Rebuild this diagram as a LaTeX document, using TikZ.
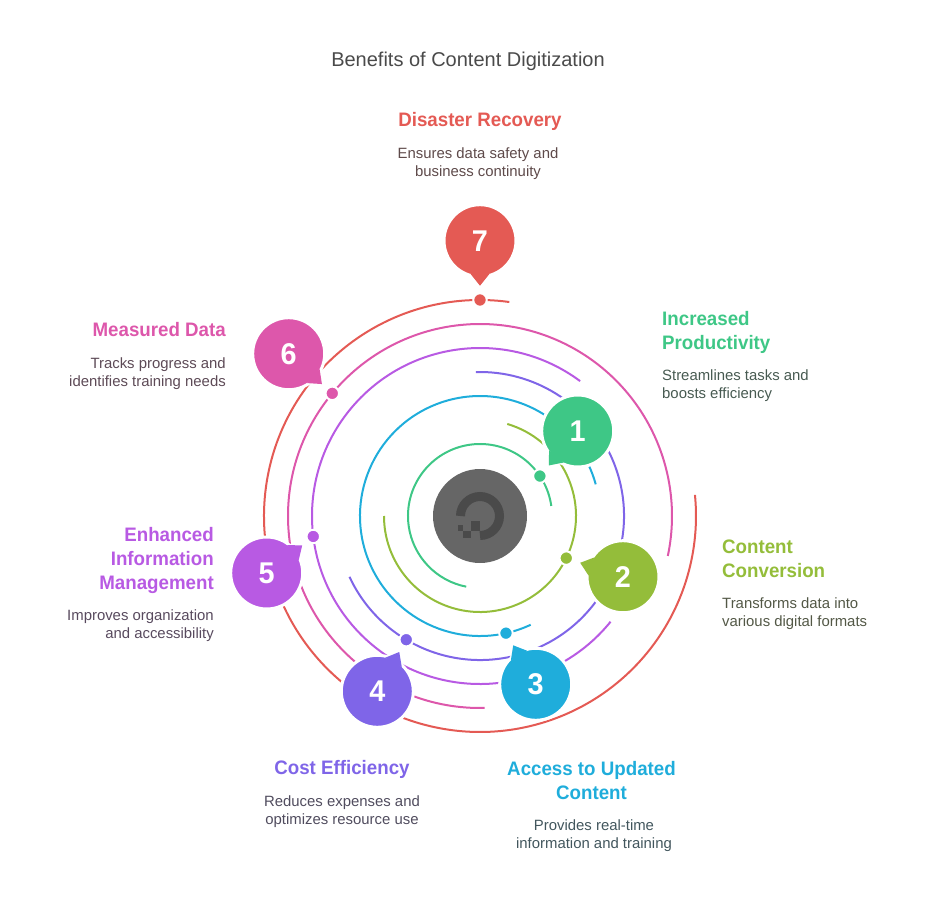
\documentclass[tikz,border=0pt]{standalone}
\usepackage{fontspec}
\setmainfont[BoldFeatures={FakeStretch=0.96}]{Liberation Sans}
\usetikzlibrary{positioning, calc}
\definecolor{stepone}{HTML}{3EC786}
\definecolor{steptwo}{HTML}{94BD3A}
\definecolor{stepthree}{HTML}{1FADDB}
\definecolor{stepfour}{HTML}{7F65E8}
\definecolor{stepfive}{HTML}{B85AE3}
\definecolor{stepsix}{HTML}{DD57AB}
\definecolor{stepseven}{HTML}{E45A54}
\definecolor{hubgray}{HTML}{666666}
\definecolor{logogray}{HTML}{4A4A4A}
\definecolor{bodygray}{HTML}{484848}

\begin{document}
\begin{tikzpicture}[
  x=1pt, y=1pt,
  orbit/.style={line width=2pt},
  marker/.style={circle, draw=white, line width=2pt, inner sep=0pt, minimum size=13.5pt},
  bubble/.style={circle, draw=white, line width=3pt, inner sep=0pt, minimum size=72pt, text=white, font=\fontsize{30}{30}\selectfont\bfseries},
  head/.style={font=\fontsize{19.5}{24}\selectfont\bfseries, inner sep=0pt, execute at begin node=\strut, execute at end node=\strut},
  blurb/.style={font=\fontsize{14.9}{18}\selectfont, inner sep=0pt, execute at begin node=\strut, execute at end node=\strut},
]
\useasboundingbox (-480,-384) rectangle (456,516);

\node[font=\fontsize{20}{24}\selectfont, text=logogray, inner sep=0pt] (title) at (-12,454.5) {Benefits of Content Digitization};

% orbits
\draw[orbit, stepone] (8:72) arc[start angle=8, end angle=259, radius=72];
\draw[orbit, steptwo] (73.5:96) arc[start angle=73.5, end angle=-180, radius=96];
\draw[orbit, stepthree] (-65:120) arc[start angle=-65, end angle=-344.7, radius=120];
\draw[orbit, stepfour] (205:144) arc[start angle=205, end angle=451.6, radius=144];
\draw[orbit, stepfive] (-39:168) arc[start angle=-39, end angle=-306.6, radius=168];
\draw[orbit, stepsix] (-88.6:192) arc[start angle=-88.6, end angle=-372, radius=192];
\draw[orbit, stepseven] (82.2:216) arc[start angle=82.2, end angle=365.6, radius=216];

% hub
\node[circle, fill=hubgray, minimum size=94pt, inner sep=0pt] (hub) at (0,0) {};
\draw[logogray, line width=9pt] (180:19.5) arc[start angle=180, end angle=-90, radius=19.5];
\fill[logogray] (-9.3,-5.3) rectangle (0,-14.7);
\fill[logogray] (-17,-14.7) rectangle (-9.3,-22);
\fill[logogray] (-22,-9.3) rectangle (-17,-14.7);

% dots on the orbits
\node[marker, fill=stepone] (d1) at (33.7:72) {};
\node[marker, fill=steptwo] (d2) at (-26:96) {};
\node[marker, fill=stepthree] (d3) at (-77.5:120) {};
\node[marker, fill=stepfour] (d4) at (239.2:144) {};
\node[marker, fill=stepfive] (d5) at (187:168) {};
\node[marker, fill=stepsix] (d6) at (140.3:192) {};
\node[marker, fill=stepseven] (d7) at (90:216) {};

% bubbles
\foreach \n/\col/\px/\py/\ang in {
  1/stepone/97.7/85/230,
  2/steptwo/143/-60.7/162,
  3/stepthree/55.7/-168.3/120,
  4/stepfour/-102.7/-175.3/60.8,
  5/stepfive/-213.3/-57/37.9,
  6/stepsix/-191.3/162.3/-42.4,
  7/stepseven/0/275.3/270}
{
  \coordinate (c\n) at (\px,\py);
  \coordinate (t\n) at ($(c\n)+(\ang:45)$);
  \draw[white, line width=3pt, line join=round] ($(c\n)+(\ang+16:34)$) -- (t\n) -- ($(c\n)+(\ang-16:34)$);
  \node[bubble, fill=\col] (b\n) at (c\n) {\n};
  \fill[\col] ($(c\n)+(\ang+16:34.5)$) -- (t\n) -- ($(c\n)+(\ang-16:34.5)$) -- cycle;
}

% labels
\node[head, text=stepone, align=left, anchor=north west] (h1) at (182,204.8) {Increased\\Productivity};
\node[blurb, text=stepone!14!bodygray, align=left, below=12.7pt of h1.south west, anchor=north west] (p1) {Streamlines tasks and\\boosts efficiency};

\node[head, text=steptwo, align=left, anchor=north west] (h2) at (242,-23.2) {Content\\Conversion};
\node[blurb, text=steptwo!14!bodygray, align=left, below=12.7pt of h2.south west, anchor=north west] (p2) {Transforms data into\\various digital formats};

\node[head, text=stepthree, align=center, anchor=north] (h3) at (111.5,-245.2) {Access to Updated\\Content};
\node[blurb, text=stepthree!14!bodygray, align=center, below=12.7pt of h3.south, anchor=north, xshift=2.5pt] (p3) {Provides real-time\\information and training};

\node[head, text=stepfour, align=center, anchor=north] (h4) at (-138,-241.2) {Cost Efficiency};
\node[blurb, text=stepfour!14!bodygray, align=center, below=13.7pt of h4.south, anchor=north] (p4) {Reduces expenses and\\optimizes resource use};

\node[head, text=stepfive, align=right, anchor=north east] (h5) at (-266,-11.2) {Enhanced\\Information\\Management};
\node[blurb, text=stepfive!14!bodygray, align=right, below=12.7pt of h5.south east, anchor=north east] (p5) {Improves organization\\and accessibility};

\node[head, text=stepsix, align=right, anchor=north east] (h6) at (-254,196.8) {Measured Data};
\node[blurb, text=stepsix!14!bodygray, align=right, below=13.7pt of h6.south east, anchor=north east] (p6) {Tracks progress and\\identifies training needs};

\node[head, text=stepseven, align=center, anchor=north] (h7) at (0,406.8) {Disaster Recovery};
\node[blurb, text=stepseven!14!bodygray, align=center, below=13.7pt of h7.south, anchor=north, xshift=-2pt] (p7) {Ensures data safety and\\business continuity};
\end{tikzpicture}
\end{document}
